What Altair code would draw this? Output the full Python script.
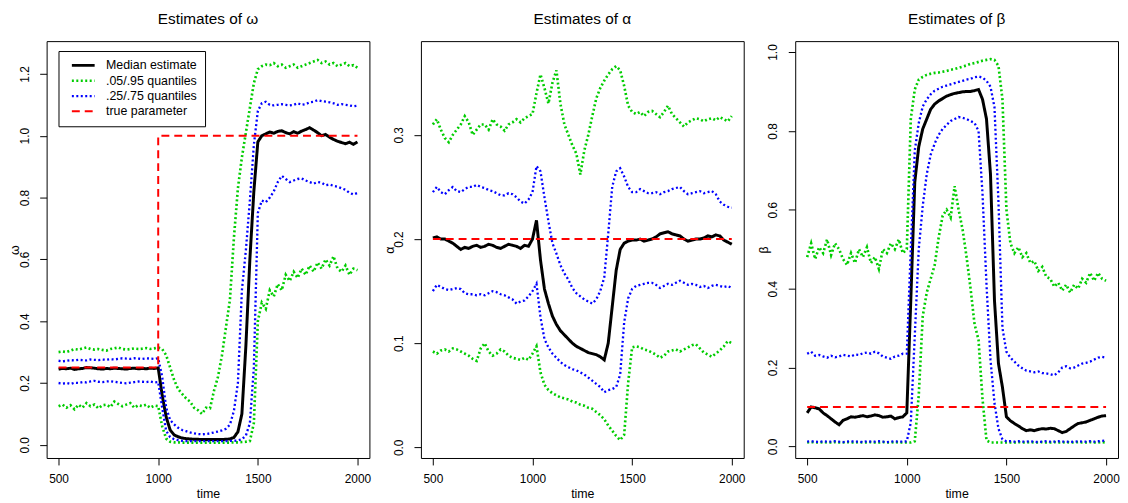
import altair as alt
import pandas as pd

FONT = "Liberation Sans, Arial, Helvetica, sans-serif"

# sample times (every 20 time units)
TIME = list(range(500, 2001, 20))

SERIES = ["Median estimate", ".05/.95 quantiles", ".25/.75 quantiles", "true parameter"]
COLORS = ["#000000", "#00CD00", "#0000FF", "#FF0000"]

# ---------------- omega ----------------
OMEGA_MED = [.245, .247, .246, .248, .244, .246, .247, .250, .249, .248, .246, .245, .247, .246, .248, .247, .246, .245, .247, .248, .246, .247, .246, .248, .247, .249] + \
            [.160, .090, .048, .032, .026, .022, .020, .019, .018, .018, .017, .017, .017, .017, .017, .017, .018, .019, .024, .042, .100, .320, .600, .820, .980] + \
            [1.000, 1.006, 1.012, 1.008, 1.014, 1.016, 1.010, 1.006, 1.013, 1.008, 1.015, 1.020, 1.026, 1.018, 1.010, 1.000, 1.004, .995, .988, .982, .978, .974, .979, .972, .980]
OMEGA_Q95 = [.300, .302, .300, .305, .310, .308, .312, .315, .310, .308, .310, .307, .305, .310, .312, .315, .310, .308, .310, .312, .310, .311, .313, .310, .312, .315] + \
            [.310, .290, .250, .210, .180, .165, .150, .140, .120, .112, .100, .120, .118, .175, .220, .290, .380, .470, .670, .830, .930, 1.010, 1.090, 1.170, 1.215] + \
            [1.225, 1.230, 1.228, 1.235, 1.225, 1.230, 1.220, 1.225, 1.230, 1.220, 1.225, 1.230, 1.235, 1.240, 1.245, 1.235, 1.240, 1.230, 1.235, 1.225, 1.230, 1.235, 1.225, 1.228, 1.220]
OMEGA_Q75 = [.272, .270, .272, .274, .273, .275, .274, .273, .276, .275, .274, .276, .275, .277, .276, .278, .280, .279, .278, .280, .279, .278, .280, .279, .278, .280] + \
            [.220, .120, .080, .066, .055, .048, .044, .040, .037, .035, .034, .035, .037, .040, .043, .047, .052, .065, .110, .200, .500, .630, .790, .970, 1.080] + \
            [1.105, 1.110, 1.100, 1.098, 1.100, 1.102, 1.100, 1.098, 1.100, 1.105, 1.100, 1.102, 1.108, 1.110, 1.115, 1.112, 1.110, 1.108, 1.105, 1.100, 1.102, 1.100, 1.098, 1.095, 1.097]
OMEGA_Q25 = [.200, .198, .200, .197, .201, .200, .203, .202, .205, .207, .204, .203, .205, .206, .204, .202, .200, .199, .201, .203, .205, .204, .203, .205, .202, .203] + \
            [.120, .045, .025, .018, .015, .013, .012, .012, .012, .012, .012, .012, .012, .012, .012, .012, .012, .013, .013, .014, .018, .030, .070, .250, .750] + \
            [.790, .785, .800, .820, .850, .870, .860, .850, .855, .860, .862, .855, .850, .845, .850, .848, .840, .842, .838, .835, .830, .825, .815, .810, .815]
OMEGA_Q05 = [.125, .130, .120, .128, .115, .130, .120, .135, .125, .130, .118, .128, .130, .122, .140, .132, .125, .130, .135, .120, .128, .125, .130, .120, .127, .125] + \
            [.060, .020, .010, .008, .008, .007, .007, .007, .007, .007, .007, .007, .007, .007, .007, .007, .007, .007, .008, .008, .009, .010, .012, .070, .400] + \
            [.460, .440, .500, .480, .520, .500, .550, .530, .560, .540, .570, .550, .580, .560, .590, .570, .600, .580, .610, .570, .560, .580, .550, .570, .565]
OMEGA_TRUE_T = [500, 1000, 1000, 2000]
OMEGA_TRUE_V = [0.25, 0.25, 1.0, 1.0]

# ---------------- alpha ----------------
ALPHA_MED = [.201, .202, .200, .200, .198, .196, .193, .190, .192, .191, .193, .194, .192, .193, .195, .194, .192, .191, .193, .195, .194, .193, .191, .194, .193, .200] + \
            [.218, .180, .152, .138, .126, .118, .112, .108, .104, .100, .097, .095, .093, .091, .090, .089, .087, .084, .100, .135, .170, .190, .196, .198, .199] + \
            [.199, .200, .198, .199, .200, .202, .205, .206, .207, .205, .204, .203, .200, .198, .199, .200, .200, .201, .203, .202, .204, .203, .199, .197, .195]
ALPHA_Q95 = [.310, .315, .305, .297, .293, .300, .305, .310, .318, .312, .300, .305, .310, .310, .305, .315, .310, .308, .304, .310, .312, .315, .312, .316, .318, .320] + \
            [.340, .358, .345, .330, .350, .362, .330, .310, .300, .290, .282, .262, .285, .300, .318, .335, .345, .352, .358, .363, .366, .362, .347, .328, .322] + \
            [.320, .322, .318, .322, .323, .320, .317, .322, .328, .320, .316, .312, .308, .312, .314, .316, .315, .313, .315, .316, .314, .317, .315, .313, .318]
ALPHA_Q75 = [.245, .250, .245, .243, .247, .250, .246, .245, .248, .250, .250, .252, .250, .249, .247, .246, .244, .242, .242, .244, .243, .240, .236, .234, .238, .245] + \
            [.270, .265, .240, .217, .196, .186, .175, .167, .161, .153, .148, .145, .142, .140, .138, .142, .150, .163, .205, .250, .265, .268, .260, .250, .245] + \
            [.245, .248, .246, .244, .244, .245, .243, .245, .246, .248, .249, .250, .246, .243, .244, .245, .246, .244, .245, .246, .243, .236, .233, .231, .230]
ALPHA_Q25 = [.150, .156, .154, .152, .151, .152, .153, .152, .148, .147, .147, .146, .147, .146, .148, .150, .149, .147, .146, .144, .142, .138, .140, .141, .145, .150] + \
            [.157, .125, .104, .096, .090, .086, .082, .079, .077, .075, .074, .072, .070, .067, .064, .061, .058, .053, .055, .056, .058, .070, .120, .143, .152] + \
            [.155, .156, .157, .158, .158, .156, .153, .155, .157, .156, .158, .160, .158, .156, .157, .156, .154, .155, .153, .155, .156, .155, .154, .155, .153]
ALPHA_Q05 = [.092, .090, .093, .094, .092, .095, .094, .092, .090, .088, .085, .083, .095, .100, .092, .088, .090, .094, .092, .088, .086, .085, .084, .086, .084, .090] + \
            [.097, .072, .060, .055, .052, .050, .048, .047, .046, .044, .043, .041, .040, .038, .037, .034, .031, .027, .021, .016, .011, .007, .012, .062, .096] + \
            [.097, .096, .094, .093, .091, .089, .086, .088, .092, .093, .094, .092, .094, .096, .098, .099, .095, .091, .089, .087, .090, .093, .097, .102, .100]
ALPHA_TRUE_T = [500, 2000]
ALPHA_TRUE_V = [0.2, 0.2]

# ---------------- beta ----------------
BETA_MED = [.085, .100, .098, .095, .085, .078, .070, .062, .055, .066, .070, .075, .074, .076, .078, .075, .077, .080, .078, .074, .075, .077, .070, .073, .075, .085] + \
           [.370, .670, .760, .805, .830, .855, .868, .876, .882, .888, .892, .895, .897, .899, .900, .900, .902, .905, .880, .830, .690, .370, .210, .150, .075] + \
           [.065, .058, .052, .045, .040, .042, .040, .043, .045, .044, .046, .045, .040, .035, .038, .045, .052, .058, .060, .062, .066, .070, .074, .077, .078]
BETA_Q95 = [.480, .515, .475, .505, .490, .525, .485, .515, .500, .475, .460, .490, .465, .500, .480, .505, .465, .480, .450, .500, .490, .515, .500, .525, .490, .500] + \
           [.830, .905, .930, .937, .942, .945, .947, .948, .950, .952, .955, .957, .960, .963, .966, .970, .972, .975, .978, .980, .982, .980, .965, .880, .600] + \
           [.515, .490, .505, .480, .490, .465, .470, .445, .455, .430, .425, .405, .415, .395, .410, .390, .410, .400, .425, .415, .440, .420, .440, .425, .420]
BETA_Q75 = [.235, .240, .230, .232, .228, .225, .230, .226, .228, .232, .230, .228, .233, .232, .236, .238, .235, .240, .236, .228, .225, .222, .228, .230, .235, .235] + \
           [.500, .750, .820, .862, .880, .893, .902, .907, .912, .915, .918, .921, .924, .927, .930, .932, .936, .938, .935, .927, .912, .860, .620, .300, .240] + \
           [.225, .215, .205, .198, .192, .190, .188, .190, .186, .185, .183, .180, .188, .200, .203, .198, .200, .205, .210, .212, .215, .220, .225, .227, .225]
BETA_Q25 = [.012, .013, .012, .011, .013, .012, .012, .013, .012, .011, .012, .013, .012, .012, .011, .013, .012, .012, .013, .012, .011, .012, .013, .012, .012, .013] + \
           [.060, .280, .500, .610, .690, .740, .768, .790, .805, .815, .825, .830, .835, .833, .830, .825, .820, .800, .640, .410, .220, .110, .045, .018, .013] + \
           [.013, .012, .013, .012, .012, .013, .012, .011, .012, .013, .012, .012, .013, .012, .012, .011, .012, .013, .012, .012, .013, .012, .013, .014, .015]
BETA_Q05 = [.010, .011, .010, .010, .011, .010, .010, .011, .010, .010, .011, .010, .010, .011, .010, .010, .011, .010, .010, .011, .010, .010, .011, .010, .010, .010] + \
           [.010, .013, .130, .330, .390, .425, .460, .530, .585, .600, .580, .660, .600, .550, .480, .400, .310, .270, .120, .015, .010, .010, .010, .010, .010] + \
           [.010, .010, .011, .010, .010, .011, .010, .010, .011, .010, .010, .011, .010, .010, .011, .010, .010, .011, .010, .010, .011, .010, .010, .011, .010]
BETA_TRUE_T = [500, 2000]
BETA_TRUE_V = [0.1, 0.1]


def frame(med, q05, q95, q25, q75, true_t, true_v):
    rows = []
    groups = [("med", SERIES[0], med), ("q05", SERIES[1], q05), ("q95", SERIES[1], q95),
              ("q25", SERIES[2], q25), ("q75", SERIES[2], q75)]
    for name, series, vals in groups:
        assert len(vals) == len(TIME), (name, len(vals))
        for i, (t, v) in enumerate(zip(TIME, vals)):
            rows.append({"t": t, "v": v, "line": name, "series": series, "ord": i})
    for i, (t, v) in enumerate(zip(true_t, true_v)):
        rows.append({"t": t, "v": v, "line": "true", "series": SERIES[3], "ord": i})
    return pd.DataFrame(rows)


def panel(df, sym, ydom, yticks, show_legend):
    x = alt.X("t:Q", scale=alt.Scale(domain=[440, 2060], nice=False, zero=False),
              axis=alt.Axis(values=[500, 1000, 1500, 2000], format="d", title="time"))
    y = alt.Y("v:Q", scale=alt.Scale(domain=ydom, nice=False, zero=False),
              axis=alt.Axis(values=yticks, format=".1f", title=sym))
    if show_legend:
        leg = alt.Legend(title=None, orient="none", legendX=12, legendY=10,
                         symbolType="M-0.2,0H4.4", symbolSize=100, labelOffset=27,
                         padding=8, rowPadding=2.5, strokeColor="black", fillColor="white",
                         cornerRadius=0, labelFont=FONT, labelFontSize=12.5, labelColor="black",
                         symbolFillColor="transparent")
    else:
        leg = None
    enc = dict(
        x=x, y=y,
        color=alt.Color("series:N", scale=alt.Scale(domain=SERIES, range=COLORS), legend=leg),
        strokeDash=alt.StrokeDash("series:N", scale=alt.Scale(domain=SERIES, range=[[1, 0], [2, 2.5], [2, 2.5], [8, 5]]), legend=leg),
        strokeWidth=alt.StrokeWidth("series:N", scale=alt.Scale(domain=SERIES, range=[3, 2, 2, 2.5]), legend=leg),
        detail="line:N",
        order="ord:Q",
    )
    base = alt.Chart(df).encode(**enc)
    med = base.transform_filter(alt.FieldEqualPredicate(field="line", equal="med")).mark_line()
    qs = base.transform_filter(alt.FieldOneOfPredicate(field="line", oneOf=["q05", "q95", "q25", "q75"])).mark_line()
    tr = base.transform_filter(alt.FieldEqualPredicate(field="line", equal="true")).mark_line()
    return alt.layer(med, qs, tr).properties(width=326, height=421, title="Estimates of " + sym)


p1 = panel(frame(OMEGA_MED, OMEGA_Q05, OMEGA_Q95, OMEGA_Q25, OMEGA_Q75, OMEGA_TRUE_T, OMEGA_TRUE_V),
           "ω", [-0.0426, 1.306], [0, 0.2, 0.4, 0.6, 0.8, 1.0, 1.2], True)
p2 = panel(frame(ALPHA_MED, ALPHA_Q05, ALPHA_Q95, ALPHA_Q25, ALPHA_Q75, ALPHA_TRUE_T, ALPHA_TRUE_V),
           "α", [-0.0102, 0.390], [0, 0.1, 0.2, 0.3], False)
p3 = panel(frame(BETA_MED, BETA_Q05, BETA_Q95, BETA_Q25, BETA_Q75, BETA_TRUE_T, BETA_TRUE_V),
           "β", [-0.0294, 1.0276], [0, 0.2, 0.4, 0.6, 0.8, 1.0], False)

chart = alt.hconcat(p1, p2, p3, spacing=52, bounds="flush",
                    padding={"left": 0, "top": 1, "right": 0, "bottom": 0}).resolve_scale(
    color="independent", strokeDash="independent", strokeWidth="independent"
).configure(font=FONT).configure_view(stroke="black", strokeWidth=1).configure_axis(
    domain=False, grid=False, tickColor="black", tickSize=7, tickWidth=1,
    labelColor="black", labelFont=FONT, labelFontSize=12,
    titleFont=FONT, titleFontSize=12.5, titleFontWeight="normal", titleColor="black"
).configure_axisY(
    labelAngle=270, labelAlign="center", labelBaseline="bottom", labelPadding=8.5, titlePadding=-3.5
).configure_axisX(labelPadding=8.5, titlePadding=3.5).configure_title(
    font=FONT, fontSize=15.5, fontWeight="normal", color="black", offset=13.5, anchor="middle"
)

chart.save("out.html", embed_options={"renderer": "svg", "actions": False})
